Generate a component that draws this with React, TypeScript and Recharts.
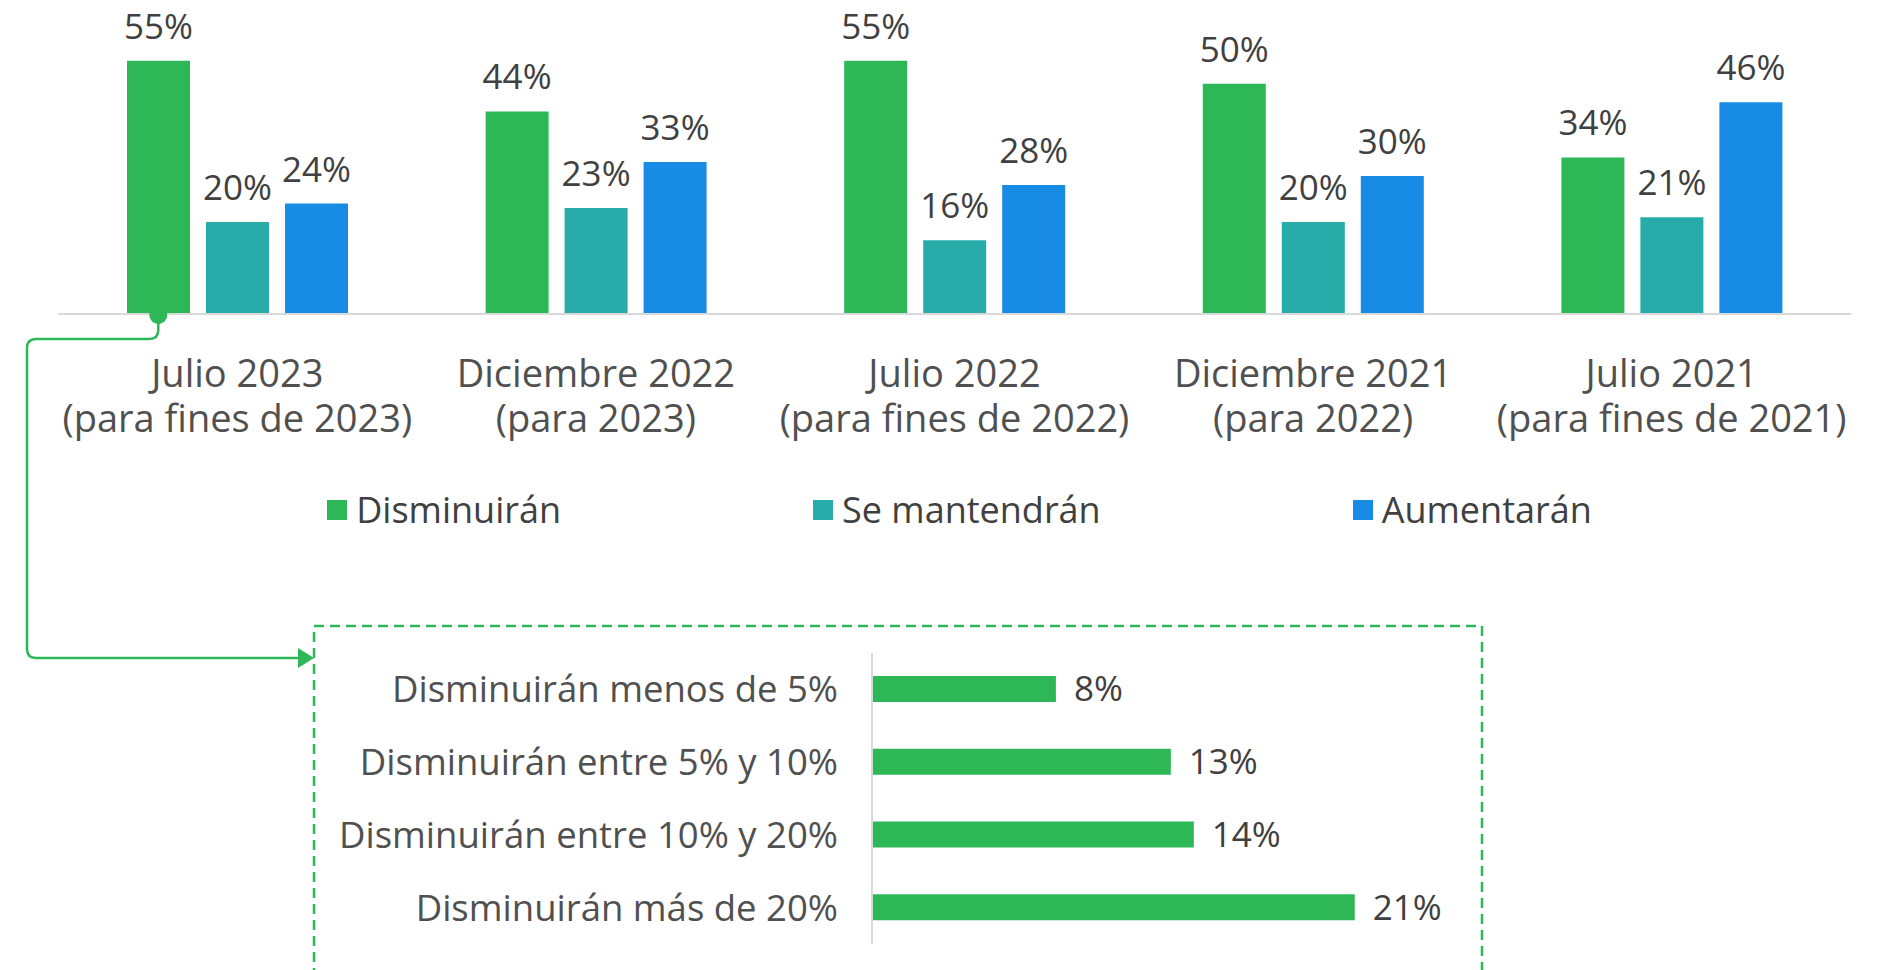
import { BarChart, Bar, XAxis, YAxis, LabelList } from 'recharts';

// periodos de la encuesta
const periods = ['Julio 2023', 'Diciembre 2022', 'Julio 2022', 'Diciembre 2021', 'Julio 2021'];
const periodNotes = ['(para fines de 2023)', '(para 2023)', '(para fines de 2022)', '(para 2022)', '(para fines de 2021)'];
const disminuiran = [55, 44, 55, 50, 34];
const seMantendran = [20, 23, 16, 20, 21];
const aumentaran = [24, 33, 28, 30, 46];

// detalle de "Disminuirán" (Julio 2023)
const rangeLabels = ['Disminuirán menos de 5%', 'Disminuirán entre 5% y 10%', 'Disminuirán entre 10% y 20%', 'Disminuirán más de 20%'];
const rangeValues = [8, 13, 14, 21];

const series = [
  { key: 'dis', name: 'Disminuirán', color: '#2db757' },
  { key: 'man', name: 'Se mantendrán', color: '#27acaa' },
  { key: 'aum', name: 'Aumentarán', color: '#188ce5' },
];

const FONT = '"Open Sans", sans-serif';
const TEXT = '#404040';
const GREEN = '#2db757';

// layout del gráfico superior
const W = 1891;
const TOP_W = 1891;
const TOP_H = 470;
const M_LEFT = 58;
const M_RIGHT = 40;
const M_TOP = 41;
const X_AXIS_H = 156;
const BAR_SIZE = 63;
const BAR_GAP = 16;

const mainData = periods.map((p, i) => ({
  name: p,
  note: periodNotes[i],
  dis: disminuiran[i],
  man: seMantendran[i],
  aum: aumentaran[i],
}));

const rangeData = rangeLabels.map((l, i) => ({ name: l, value: rangeValues[i] }));

const pct = (v: any) => `${v}%`;

const PeriodTick = (props: any) => {
  const { x, y, payload, index } = props;
  return (
    <text x={x} y={y} textAnchor="middle" fill="#505050" fontSize={38} fontFamily={FONT}>
      <tspan x={x} dy={73}>{payload.value}</tspan>
      <tspan x={x} dy={45}>{periodNotes[index]}</tspan>
    </text>
  );
};

export default function App() {
  const plotW = TOP_W - M_LEFT - M_RIGHT;
  const band = plotW / periods.length;
  const groupW = BAR_SIZE * 3 + BAR_GAP * 2;
  const baseY = TOP_H - X_AXIS_H;
  const firstBarX = M_LEFT + band / 2 - groupW / 2 + BAR_SIZE / 2;

  const boxLeft = 314;
  const boxTop = 626;
  const boxRight = 1482;
  const midY = 339;
  const arrowY = 658;
  const leftX = 27;
  const r = 9;

  return (
    <div style={{ position: 'absolute', left: 0, top: 0, width: W, height: 970, overflow: 'hidden', background: '#fff', fontFamily: FONT }}>
      <BarChart
        width={TOP_W}
        height={TOP_H}
        data={mainData}
        margin={{ top: M_TOP, right: M_RIGHT, left: M_LEFT, bottom: 0 }}
        barSize={BAR_SIZE}
        barGap={BAR_GAP}
      >
        <XAxis
          dataKey="name"
          height={X_AXIS_H}
          tickLine={false}
          tickSize={0}
          tickMargin={0}
          axisLine={{ stroke: '#d9d9d9', strokeWidth: 2 }}
          tick={<PeriodTick />}
          interval={0}
        />
        <YAxis hide domain={[0, 59.3]} />
        {series.map((s) => (
          <Bar key={s.key} dataKey={s.key} name={s.name} fill={s.color} isAnimationActive={false}>
            <LabelList dataKey={s.key} position="top" offset={22} formatter={pct} fill={TEXT} fontSize={35} fontFamily={FONT} />
          </Bar>
        ))}
      </BarChart>

      {/* leyenda */}
      <div style={{ position: 'absolute', left: 0, top: 490, width: W, height: 40, display: 'flex', justifyContent: 'center', alignItems: 'center', gap: 252, paddingLeft: 28, boxSizing: 'border-box' }}>
        {series.map((s) => (
          <div key={s.key} style={{ display: 'flex', alignItems: 'center', gap: 9 }}>
            <span style={{ width: 20, height: 20, background: s.color, display: 'inline-block' }} />
            <span style={{ fontSize: 36, color: TEXT, lineHeight: '40px' }}>{s.name}</span>
          </div>
        ))}
      </div>

      {/* conector y recuadro */}
      <svg width={W} height={970} style={{ position: 'absolute', left: 0, top: 0, pointerEvents: 'none' }}>
        <rect x={boxLeft} y={boxTop} width={boxRight - boxLeft} height={400} fill="none" stroke={GREEN} strokeWidth={2.5} strokeDasharray="10 6" />
        <path
          d={`M${firstBarX} ${baseY} L${firstBarX} ${midY - r} Q${firstBarX} ${midY} ${firstBarX - r} ${midY} L${leftX + r} ${midY} Q${leftX} ${midY} ${leftX} ${midY + r} L${leftX} ${arrowY - r} Q${leftX} ${arrowY} ${leftX + r} ${arrowY} L${boxLeft - 14} ${arrowY}`}
          fill="none"
          stroke={GREEN}
          strokeWidth={2.5}
        />
        <circle cx={firstBarX} cy={baseY + 1} r={9} fill={GREEN} />
        <polygon points={`${boxLeft - 16},${arrowY - 10} ${boxLeft},${arrowY} ${boxLeft - 16},${arrowY + 10}`} fill={GREEN} />
      </svg>

      <div style={{ position: 'absolute', left: boxLeft, top: boxTop }}>
        <BarChart
          width={1168}
          height={344}
          data={rangeData}
          layout="vertical"
          margin={{ top: 27, right: 56, left: 0, bottom: 26 }}
          barSize={26}
        >
          <XAxis type="number" hide domain={[0, 24.1]} />
          <YAxis
            type="category"
            dataKey="name"
            width={558}
            tickLine={false}
            tickSize={0}
            tickMargin={34}
            axisLine={{ stroke: '#d9d9d9', strokeWidth: 2 }}
            tick={{ fill: '#505050', fontSize: 36.5, fontFamily: FONT }}
            interval={0}
          />
          <Bar dataKey="value" fill={GREEN} isAnimationActive={false}>
            <LabelList dataKey="value" position="right" offset={18} formatter={pct} fill={TEXT} fontSize={35} fontFamily={FONT} />
          </Bar>
        </BarChart>
      </div>
    </div>
  );
}
